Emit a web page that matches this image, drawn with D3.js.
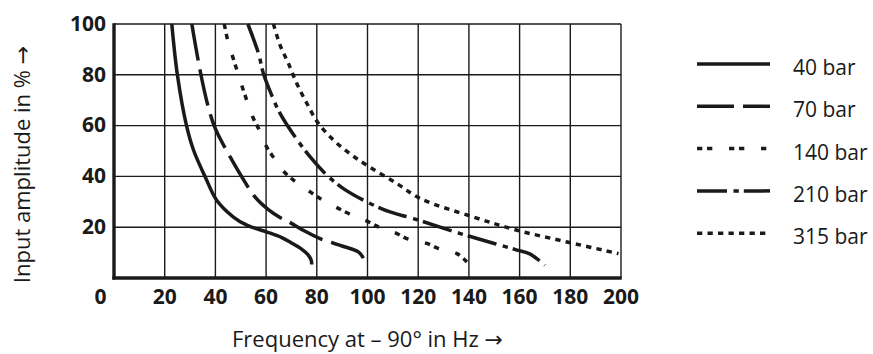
<!DOCTYPE html>
<html>
<head>
<meta charset="utf-8">
<script src="https://cdn.jsdelivr.net/npm/d3@7"></script>
<style>
  body { margin: 0; background: #fff; }
  text { font-family: "Open Sans", "DejaVu Sans", sans-serif; fill: #1a1a1a; }
</style>
</head>
<body>
<script>
// frequency (Hz) / input amplitude (%) pairs per system pressure
var bar40  = [[22.8,100],[25,80],[28.6,60],[31.5,50],[35.9,40],[40.5,30.6],[47.1,24],[52.4,20.8],[60.3,18.1],[66,16],[70,13.8],[74,11.4],[76.5,9.2],[77.8,7],[78,5.3]];
var bar70  = [[30.7,100],[33.9,82],[37,68],[39.5,60],[41.8,55],[45.8,47.7],[50,40.5],[55.7,31.8],[60.9,26.9],[65.5,23.8],[69.5,21.8],[75,18.6],[81.3,15.5],[90,12.6],[96.5,10.2],[98.2,8],[98.5,5.4]];
var bar140 = [[43.5,100],[45,93],[47.5,85],[51,74],[55,62.8],[57,58.9],[60,52],[62.9,47.5],[66,43],[70.8,38.5],[77.4,33.9],[81.3,31.3],[88.5,27.4],[92.5,25.4],[100.4,22.1],[104.3,20.1],[111.6,17.5],[115.5,15.5],[123.4,13.6],[128,11.6],[135.3,9.6],[139.2,6.3]];
var bar210 = [[52.8,100],[57,88.4],[58.9,80.6],[62.2,72],[65.5,64.8],[71.4,55.6],[77.4,47.7],[84,40.5],[90.5,35.2],[99.7,30],[108.9,26],[118.1,23.4],[136.6,17.5],[150,13.6],[159,11],[164.2,9.4],[170,5]];
var bar315 = [[62.9,100],[65.5,91.7],[68.8,84.5],[72.1,76.6],[76.1,68.7],[80.6,60.9],[86.6,54.3],[93,49],[99.7,44.4],[111.6,37.2],[120.8,31.3],[141.8,24],[159,18.8],[178.7,14.2],[199,9.6]];

var seriesLabels = ["40 bar", "70 bar", "140 bar", "210 bar", "315 bar"];
var freqTicks = [0, 20, 40, 60, 80, 100, 120, 140, 160, 180, 200];
var ampTicks = [20, 40, 60, 80, 100];

(function() {
    var width = 873, height = 354;
    var margin = {top: 24, right: 252, bottom: 76, left: 114};
    var chartWidth = width - margin.left - margin.right;
    var chartHeight = height - margin.top - margin.bottom;

    var svg = d3.select("body").append("svg")
        .attr("width", width)
        .attr("height", height);

    var chartG = svg.append("g")
        .attr("transform", `translate(${margin.left},${margin.top})`);

    var x = d3.scaleLinear().domain([0, 200]).range([0, chartWidth]);
    var y = d3.scaleLinear().domain([0, 100]).range([chartHeight, 0]);

    var ink = "#1a1a1a";

    // grid
    chartG.append("g").selectAll("line")
        .data(freqTicks.slice(1))
        .enter().append("line")
        .attr("x1", d => x(d)).attr("x2", d => x(d))
        .attr("y1", 0).attr("y2", chartHeight)
        .attr("stroke", ink).attr("stroke-width", 1.4);

    chartG.append("g").selectAll("line")
        .data(ampTicks)
        .enter().append("line")
        .attr("x1", 0).attr("x2", chartWidth)
        .attr("y1", d => y(d)).attr("y2", d => y(d))
        .attr("stroke", ink).attr("stroke-width", 1.4);

    // heavy axes
    chartG.append("line")
        .attr("x1", 0).attr("x2", 0)
        .attr("y1", -0.7).attr("y2", chartHeight + 1.6)
        .attr("stroke", ink).attr("stroke-width", 3.4);
    chartG.append("line")
        .attr("x1", -1.7).attr("x2", chartWidth + 0.7)
        .attr("y1", chartHeight).attr("y2", chartHeight)
        .attr("stroke", ink).attr("stroke-width", 3.4);

    // tick labels
    chartG.append("g").selectAll("text")
        .data(freqTicks)
        .enter().append("text")
        .attr("x", d => d === 0 ? x(d) - 13.5 : x(d))
        .attr("y", chartHeight + 25.5)
        .attr("text-anchor", "middle")
        .style("font-size", "21px")
        .style("font-weight", "bold")
        .text(d => d);

    chartG.append("g").selectAll("text")
        .data(ampTicks)
        .enter().append("text")
        .attr("x", -8)
        .attr("y", d => y(d) + 6.8)
        .attr("text-anchor", "end")
        .style("font-size", "21px")
        .style("font-weight", "bold")
        .text(d => d);

    // axis titles
    svg.append("text")
        .attr("x", 367.5)
        .attr("y", 346.5)
        .attr("text-anchor", "middle")
        .style("font-size", "22px")
        .text("Frequency at \u2013 90\u00b0 in Hz \u2192");

    svg.append("text")
        .attr("transform", "translate(30,164.5) rotate(-90)")
        .attr("text-anchor", "middle")
        .style("font-size", "22px")
        .text("Input amplitude in % \u2192");

    // curves
    var dashes = ["none", "37,9", "5.3,4.7,5.3,16.7", "30,6.5,5.3,5", "5.3,5.2"];
    var series = [bar40, bar70, bar140, bar210, bar315].map((values, i) => ({
        name: seriesLabels[i], values: values, dash: dashes[i]
    }));

    svg.append("clipPath").attr("id", "plot-clip")
        .append("rect")
        .attr("x", 0).attr("y", -2)
        .attr("width", chartWidth).attr("height", chartHeight + 2);

    var line = d3.line()
        .x(d => x(d[0]))
        .y(d => y(d[1]))
        .curve(d3.curveCatmullRom.alpha(0.5));

    chartG.append("g")
        .attr("clip-path", "url(#plot-clip)")
        .selectAll("path")
        .data(series)
        .enter().append("path")
        .attr("fill", "none")
        .attr("stroke", ink)
        .attr("stroke-width", 3.5)
        .attr("stroke-dasharray", d => d.dash)
        .attr("d", d => line(d.values));

    // legend
    var legend = svg.append("g")
        .attr("transform", "translate(697,64)");

    var rows = legend.selectAll("g")
        .data(series)
        .enter().append("g")
        .attr("transform", (d, i) => `translate(0,${i * 42.3})`);

    rows.append("line")
        .attr("x1", 0).attr("x2", 73)
        .attr("y1", 0).attr("y2", 0)
        .attr("stroke", ink)
        .attr("stroke-width", 3.5)
        .attr("stroke-dasharray", d => d.dash);

    rows.append("text")
        .attr("x", 96)
        .attr("y", 11)
        .style("font-size", "21px")
        .text(d => d.name);
})();
</script>
</body>
</html>
